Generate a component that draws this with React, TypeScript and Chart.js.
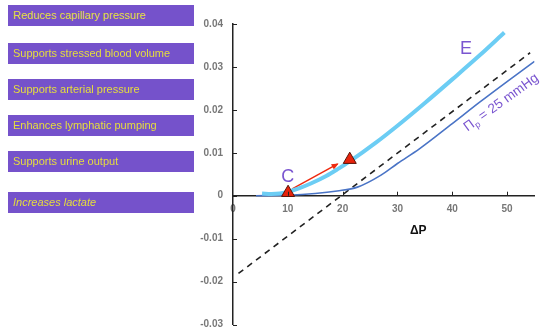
import React, { useEffect, useRef } from "react";
import { Chart, registerables } from "chart.js";

Chart.register(...registerables);

// ---- data ----
const boxLabels = [
  "Reduces capillary pressure",
  "Supports stressed blood volume",
  "Supports arterial pressure",
  "Enhances lymphatic pumping",
  "Supports urine output",
  "Increases lactate",
];
const boxTops = [5, 43, 79, 115, 151, 192];

const xTicks = [0, 10, 20, 30, 40, 50];
const yTicks = [-0.03, -0.02, -0.01, 0, 0.01, 0.02, 0.03, 0.04];

const eX = [5.3, 7, 8.5, 10, 12, 14.3, 17, 19.1, 21.3, 26, 30, 35, 40, 45, 49.5];
const eY = [0.0005, 0.0004, 0.0005, 0.0009, 0.0017, 0.0029, 0.0046, 0.0062, 0.008, 0.0123, 0.0163, 0.0216, 0.0271, 0.0327, 0.038];

const pX = [4.2, 10, 15, 19, 22.7, 27, 30, 34, 40, 45, 50, 55];
const pY = [0, 0.0001, 0.0005, 0.0011, 0.002, 0.0048, 0.0075, 0.0109, 0.0168, 0.0218, 0.0266, 0.0313];

const dashX = [1, 54.2];
const dashY = [-0.0181, 0.0333];

const triX = [10.05, 21.3];
const triY = [0.0007, 0.0084];

const arrowFrom = [10.8, 0.0016];
const arrowTo = [19.1, 0.0074];

const PURPLE = "#7552cb";
const LABEL_PURPLE = "#7a55d0";

const toPts = (xs: number[], ys: number[]) => xs.map((x, i) => ({ x, y: ys[i] }));

const annotPlugin = {
  id: "annot",
  beforeDatasetsDraw(chart: any) {
    const { ctx, scales } = chart;
    const xs = scales.x, ys = scales.y;
    const x1 = xs.getPixelForValue(arrowFrom[0]);
    const y1 = ys.getPixelForValue(arrowFrom[1]);
    const x2 = xs.getPixelForValue(arrowTo[0]);
    const y2 = ys.getPixelForValue(arrowTo[1]);
    ctx.save();
    ctx.strokeStyle = "#ee2a10";
    ctx.fillStyle = "#ee2a10";
    ctx.lineWidth = 1.5;
    ctx.beginPath();
    ctx.moveTo(x1, y1);
    ctx.lineTo(x2, y2);
    ctx.stroke();
    const ang = Math.atan2(y2 - y1, x2 - x1);
    const hl = 6, hw = 3;
    ctx.beginPath();
    ctx.moveTo(x2 + Math.cos(ang) * 1, y2 + Math.sin(ang) * 1);
    ctx.lineTo(x2 - Math.cos(ang) * hl + Math.sin(ang) * hw, y2 - Math.sin(ang) * hl - Math.cos(ang) * hw);
    ctx.lineTo(x2 - Math.cos(ang) * hl - Math.sin(ang) * hw, y2 - Math.sin(ang) * hl + Math.cos(ang) * hw);
    ctx.closePath();
    ctx.fill();
    ctx.restore();
  },
  afterDatasetsDraw(chart: any) {
    const { ctx, scales } = chart;
    const xs = scales.x, ys = scales.y;
    const x0 = xs.getPixelForValue(0);
    const y0 = ys.getPixelForValue(0);
    ctx.save();
    // inward tick marks
    ctx.strokeStyle = "#222";
    ctx.lineWidth = 1;
    yTicks.forEach((v) => {
      const py = Math.round(ys.getPixelForValue(v)) + 0.5;
      ctx.beginPath();
      ctx.moveTo(x0, py);
      ctx.lineTo(x0 + 4, py);
      ctx.stroke();
    });
    xTicks.forEach((v) => {
      if (v === 0) return;
      const px = Math.round(xs.getPixelForValue(v)) + 0.5;
      ctx.beginPath();
      ctx.moveTo(px, y0);
      ctx.lineTo(px, y0 - 4);
      ctx.stroke();
    });
    // labels
    ctx.fillStyle = LABEL_PURPLE;
    ctx.textAlign = "center";
    ctx.textBaseline = "middle";
    ctx.font = "18px Arial, 'Liberation Sans', sans-serif";
    ctx.fillText("C", xs.getPixelForValue(10), ys.getPixelForValue(0.0043));
    ctx.fillText("E", xs.getPixelForValue(42.5), ys.getPixelForValue(0.0341));

    // rotated Πp label
    ctx.save();
    ctx.translate(xs.getPixelForValue(42.8), ys.getPixelForValue(0.0149));
    ctx.rotate((-36 * Math.PI) / 180);
    ctx.textAlign = "left";
    ctx.textBaseline = "alphabetic";
    ctx.font = "13.5px Arial, 'Liberation Sans', sans-serif";
    ctx.fillText("Π", 0, 0);
    let w = ctx.measureText("Π").width;
    ctx.font = "9px Arial, 'Liberation Sans', sans-serif";
    ctx.fillText("p", w, 3);
    w += ctx.measureText("p").width;
    ctx.font = "13.5px Arial, 'Liberation Sans', sans-serif";
    ctx.fillText(" = 25 mmHg", w, 0);
    ctx.restore();

    // axis title
    ctx.fillStyle = "#111";
    ctx.textAlign = "center";
    ctx.textBaseline = "middle";
    ctx.font = "bold 12px Arial, 'Liberation Sans', sans-serif";
    ctx.fillText("ΔP", xs.getPixelForValue(33.8), y0 + 35);
    ctx.restore();
  },
};

export default function App() {
  const ref = useRef<HTMLCanvasElement | null>(null);

  useEffect(() => {
    if (!ref.current) return;
    const chart = new Chart(ref.current, {
      type: "line",
      data: {
        datasets: [
          {
            label: "Points",
            data: toPts(triX, triY),
            showLine: false,
            pointStyle: "triangle",
            pointRadius: 7.5,
            pointBackgroundColor: "#e8230c",
            pointBorderColor: "#5a1206",
            pointBorderWidth: 1,
          },
          {
            label: "E",
            data: toPts(eX, eY),
            borderColor: "#6ccdf4",
            borderWidth: 4,
            pointRadius: 0,
            cubicInterpolationMode: "monotone",
            fill: false,
          },
          {
            label: "Πp = 25 mmHg",
            data: toPts(pX, pY),
            borderColor: "#4a74c6",
            borderWidth: 1.6,
            pointRadius: 0,
            cubicInterpolationMode: "monotone",
            fill: false,
          },
          {
            label: "Dashed",
            data: toPts(dashX, dashY),
            borderColor: "#222",
            borderWidth: 1.6,
            borderDash: [6, 5],
            pointRadius: 0,
            fill: false,
          },
        ],
      },
      options: {
        animation: false,
        responsive: false,
        devicePixelRatio: 1,
        layout: { padding: { left: 195, top: 24, right: 2, bottom: 7 } },
        plugins: { legend: { display: false }, tooltip: { enabled: false } },
        scales: {
          x: {
            type: "linear",
            position: { y: 0 },
            min: 0,
            max: 55,
            afterFit: (s: any) => { s.height = 0; },
            afterBuildTicks: (s: any) => { s.ticks = xTicks.map((v) => ({ value: v })); },
            grid: { display: true, drawOnChartArea: false, drawTicks: true, tickLength: 8, tickColor: "rgba(0,0,0,0)" },
            border: { display: true, color: "#222", width: 1.5 },
            ticks: {
              padding: 0,
              color: "#777",
              font: { family: "Arial, 'Liberation Sans', sans-serif", size: 10, weight: "bold" },
              callback: (v: any) => String(v),
              maxRotation: 0,
            },
          },
          y: {
            type: "linear",
            min: -0.03,
            max: 0.04,
            afterFit: (s: any) => { s.width = 38; },
            afterBuildTicks: (s: any) => { s.ticks = yTicks.map((v) => ({ value: v })); },
            grid: { display: true, drawOnChartArea: false, drawTicks: true, tickLength: 10, tickColor: "rgba(0,0,0,0)" },
            border: { display: true, color: "#222", width: 1.5 },
            ticks: {
              padding: 0,
              color: "#777",
              font: { family: "Arial, 'Liberation Sans', sans-serif", size: 10, weight: "bold" },
              callback: (v: any) => {
                const n = Math.round(Number(v) * 100) / 100;
                return n === 0 ? "0" : n.toFixed(2);
              },
            },
          },
        },
      },
      plugins: [annotPlugin],
    });
    return () => chart.destroy();
  }, []);

  return (
    <div style={{ position: "fixed", left: 0, top: 0, width: 543, height: 333, background: "#fff" }}>
      <canvas ref={ref} width={543} height={333} style={{ position: "absolute", left: 0, top: 0, display: "block" }} />
      {boxLabels.map((t, i) => (
        <div
          key={t}
          style={{
            position: "absolute",
            left: 8,
            top: boxTops[i],
            width: 186,
            height: 21,
            background: PURPLE,
            color: "#e6de3c",
            fontFamily: "Arial, 'Liberation Sans', sans-serif",
            fontSize: 11,
            lineHeight: "21px",
            paddingLeft: 5,
            boxSizing: "border-box",
            fontStyle: i === boxLabels.length - 1 ? "italic" : "normal",
            whiteSpace: "nowrap",
          }}
        >
          {t}
        </div>
      ))}
    </div>
  );
}
